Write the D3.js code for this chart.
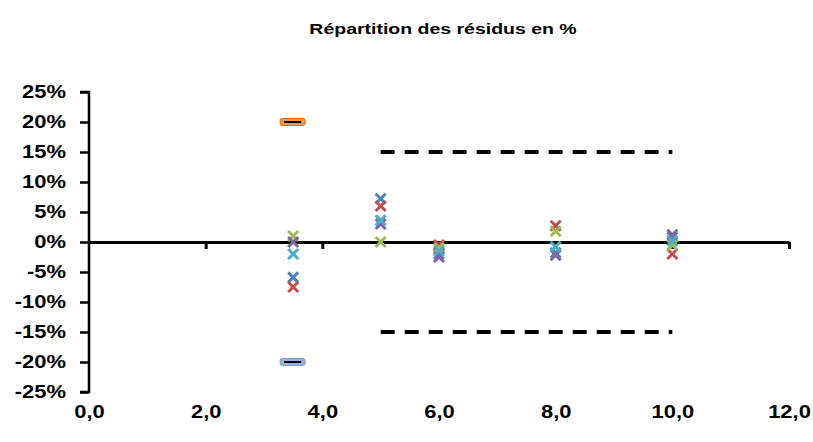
<!DOCTYPE html>
<html>
<head>
<meta charset="utf-8">
<script src="https://cdn.jsdelivr.net/npm/d3@7"></script>
<style>
  body { margin: 0; background: #fff; }
  svg { font-family: "Liberation Sans", Arial, sans-serif; }
</style>
</head>
<body>
<script>
// data
var xValues = [3.5, 5, 6, 8, 10];
var seriesNames = ["S1", "S2", "S3", "S4", "S5"];
var seriesColors = ["#4F81BD", "#C0504D", "#9BBB59", "#8064A2", "#4BACC6"];
var seriesValues = [
  [-5.9, 7.2, -2.0, -1.8, 0.8],
  [-7.5, 6.0, -0.5, 2.7, -2.0],
  [1.0, 0.0, -1.0, 1.8, -0.5],
  [0.0, 3.0, -2.5, -2.2, 1.2],
  [-2.0, 3.6, -1.5, -0.8, 0.2]
];
var upperBound = [{x: 3.5, y: 20}];
var lowerBound = [{x: 3.5, y: -20}];
var limitX = [5, 10];
var limitY = [15, -15];
var yTicks = [25, 20, 15, 10, 5, 0, -5, -10, -15, -20, -25];
var xTicks = [0, 2, 4, 6, 8, 10, 12];
var title = "Répartition des résidus en %";

var svgWidth = 813;
var svgHeight = 442;
var stretch = 1.22; // the original text is a bit wide

var svg = d3.select("body")
  .append("svg")
  .attr("width", svgWidth)
  .attr("height", svgHeight);

var xscale = d3.scaleLinear().domain([0, 12]).range([89, 789]);
var yscale = d3.scaleLinear().domain([-25, 25]).range([392, 92]);

// title
svg.append("text")
  .attr("transform", `translate(443, 34) scale(1.3, 1)`)
  .attr("text-anchor", "middle")
  .style("font-size", "15px")
  .style("font-weight", "bold")
  .text(title);

// widen axis labels, keeping their anchor point
function widen(sel) {
  sel.each(function() {
    var t = d3.select(this);
    var x = +t.attr("x") || 0;
    var y = +t.attr("y") || 0;
    t.attr("x", 0).attr("y", 0)
      .attr("transform", `translate(${x}, ${y}) scale(${stretch}, 1)`);
  });
  sel.style("font-size", "18px")
    .style("font-weight", "bold")
    .attr("fill", "#000")
    .attr("font-family", "Liberation Sans, Arial, sans-serif");
}

// y axis
var leftAxis = d3.axisLeft(yscale)
  .tickValues(yTicks)
  .tickSize(9)
  .tickPadding(14)
  .tickFormat(d => d + "%");

var yAxisG = svg.append("g")
  .attr("transform", `translate(${xscale(0)}, 0)`)
  .call(leftAxis);
yAxisG.select(".domain").attr("d", `M-9,${yscale(25)}H0V${yscale(-25)}H-9`);
yAxisG.selectAll("path, line").attr("stroke", "#000").attr("stroke-width", 2.5);
widen(yAxisG.selectAll("text"));

// x axis line at 0 with ticks
var bottomAxis = d3.axisBottom(xscale)
  .tickValues(xTicks.slice(1))
  .tickSize(7)
  .tickSizeOuter(0)
  .tickFormat("");
var xAxisG = svg.append("g")
  .attr("transform", `translate(0, ${yscale(0)})`)
  .call(bottomAxis);
xAxisG.selectAll("path, line").attr("stroke", "#000").attr("stroke-width", 3);

// x labels at the bottom
var labelAxis = d3.axisBottom(xscale)
  .tickValues(xTicks)
  .tickSize(0)
  .tickPadding(13)
  .tickFormat(d => d3.format(".1f")(d).replace(".", ","));
var labelG = svg.append("g")
  .attr("transform", `translate(0, ${yscale(-25)})`)
  .call(labelAxis);
labelG.select(".domain").remove();
widen(labelG.selectAll("text"));

// dashed limits
limitY.forEach(function(v) {
  svg.append("line")
    .attr("x1", xscale(limitX[0]))
    .attr("x2", xscale(limitX[1]))
    .attr("y1", yscale(v))
    .attr("y2", yscale(v))
    .attr("stroke", "#000")
    .attr("stroke-width", 4)
    .attr("stroke-dasharray", "14,10");
});

// bound markers (dash markers)
function dashMarker(data, fill, stroke) {
  var g = svg.append("g").selectAll("g")
    .data(data)
    .enter()
    .append("g")
    .attr("transform", d => `translate(${xscale(d.x)}, ${yscale(d.y)})`);
  g.append("rect")
    .attr("x", -13).attr("y", -3.5)
    .attr("width", 25).attr("height", 7)
    .attr("rx", 2)
    .attr("fill", fill)
    .attr("stroke", stroke)
    .attr("stroke-width", 1);
  g.append("line")
    .attr("x1", -9).attr("x2", 8)
    .attr("stroke", "#000")
    .attr("stroke-width", 2);
}
dashMarker(upperBound, "#F79646", "#E46C0A");
dashMarker(lowerBound, "#95B3D7", "#7F9FCA");

// residual x markers
seriesValues.forEach(function(vals, i) {
  var pts = vals.map((v, j) => ({x: xValues[j], y: v}));
  svg.append("g")
    .attr("class", "series-" + seriesNames[i])
    .selectAll("path")
    .data(pts)
    .enter()
    .append("path")
    .attr("transform", d => `translate(${xscale(d.x)}, ${yscale(d.y)})`)
    .attr("d", "M-5,-5L5,5M-5,5L5,-5")
    .attr("stroke", seriesColors[i])
    .attr("stroke-width", 3)
    .attr("fill", "none");
});
</script>
</body>
</html>
